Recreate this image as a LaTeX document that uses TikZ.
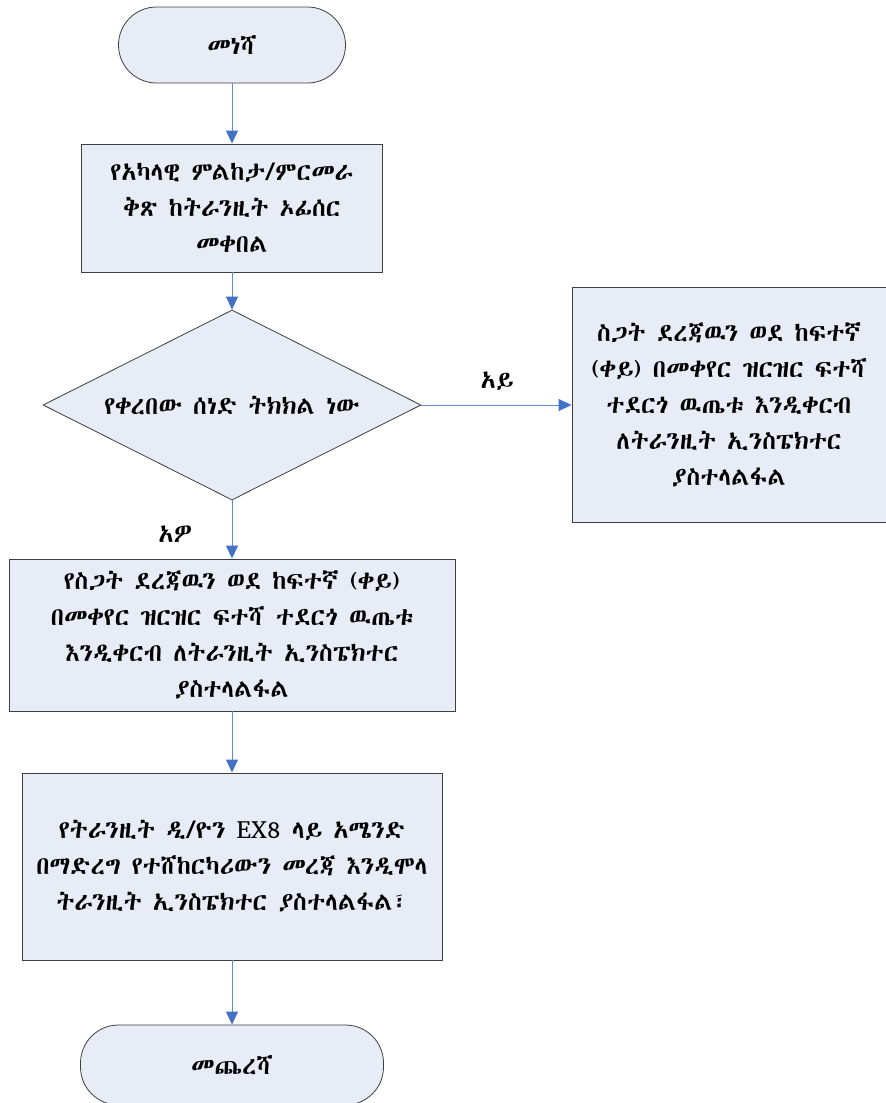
\documentclass[tikz,border=0pt]{standalone}
\usepackage{fontspec}
% Ethiopic face: first one available
\IfFontExistsTF{Abyssinica SIL}{\newfontfamily\ethfont{Abyssinica SIL}}{%
  \IfFontExistsTF{FreeSerif}{\newfontfamily\ethfont{FreeSerif}}{%
    \IfFontExistsTF{FreeSans}{\newfontfamily\ethfont{FreeSans}}{%
      \IfFontExistsTF{Unifont}{\newfontfamily\ethfont{Unifont}}{%
        \newfontfamily\ethfont{DejaVu Sans}}}}}
\usetikzlibrary{shapes.geometric,arrows.meta}

\definecolor{boxfill}{HTML}{E7ECF6}
\definecolor{boxline}{HTML}{3F3F3F}
\definecolor{flowline}{HTML}{5B8BD3}
\definecolor{flowhead}{HTML}{4472C4}

\tikzset{
  every node/.style={font=\ethfont\fontsize{25}{36}\selectfont},
  terminal/.style={rectangle, rounded corners=38pt, draw=boxline, fill=boxfill,
    line width=0.8pt, inner sep=0pt},
  process/.style={rectangle, draw=boxline, fill=boxfill, line width=0.9pt,
    inner sep=0pt, align=center},
  decision/.style={diamond, draw=boxline, fill=boxfill, line width=0.8pt,
    inner sep=0pt, aspect=2},
  flow/.style={draw=flowline, line width=1pt,
    -{Triangle[length=13pt,width=12pt,color=flowhead]}},
  branch/.style={font=\ethfont\fontsize{25}{28}\selectfont}
}

\begin{document}
\begin{tikzpicture}[x=1pt,y=-1pt]
  \useasboundingbox (0,0) rectangle (886,1103);

  \node[terminal, minimum width=227pt, minimum height=76pt] (start) at (232,45) {መነሻ};

  \node[process, minimum width=301pt, minimum height=128pt] (receive) at (232,208)
    {የአካላዊ ምልከታ/ምርመራ\\ቅጽ ከትራንዚት ኦፊሰር\\መቀበል};

  \node[decision, minimum width=378pt, minimum height=190pt] (check) at (232,405)
    {የቀረበው ሰነድ ትክክል ነው};

  \node[process, minimum width=314pt, minimum height=235pt] (reject) at (729,405)
    {ስጋት ደረጃዉን ወደ ከፍተኛ\\(ቀይ) በመቀየር ዝርዝር ፍተሻ\\ተደርጎ ዉጤቱ እንዲቀርብ\\ለትራንዚት ኢንስፔክተር\\ያስተላልፋል};

  \node[process, minimum width=446pt, minimum height=152pt] (accept) at (232,635)
    {የስጋት ደረጃዉን ወደ ከፍተኛ (ቀይ)\\በመቀየር ዝርዝር ፍተሻ ተደርጎ ዉጤቱ\\እንዲቀርብ ለትራንዚት ኢንስፔክተር\\ያስተላልፋል};

  \node[process, minimum width=420pt, minimum height=187pt] (amend) at (232,866.5)
    {የትራንዚት ዲ/ዮን EX8 ላይ አሜንድ\\በማድረግ የተሸከርካሪውን መረጃ እንዲሞላ\\ትራንዚት ኢንስፔክተር ያስተላልፋል፣};

  \node[terminal, minimum width=303pt, minimum height=80pt] (finish) at (232,1065) {መጨረሻ};

  \draw[flow] (start.south) -- (receive.north);
  \draw[flow] (receive.south) -- (check.north);
  \draw[flow] (check.east) -- (reject.west);
  \draw[flow] (check.south) -- (accept.north);
  \draw[flow] (accept.south) -- (amend.north);
  \draw[flow] (amend.south) -- (finish.north);

  \node[branch] (no) at (497,381) {አይ};
  \node[branch] (yes) at (175,534) {አዎ};
\end{tikzpicture}
\end{document}
